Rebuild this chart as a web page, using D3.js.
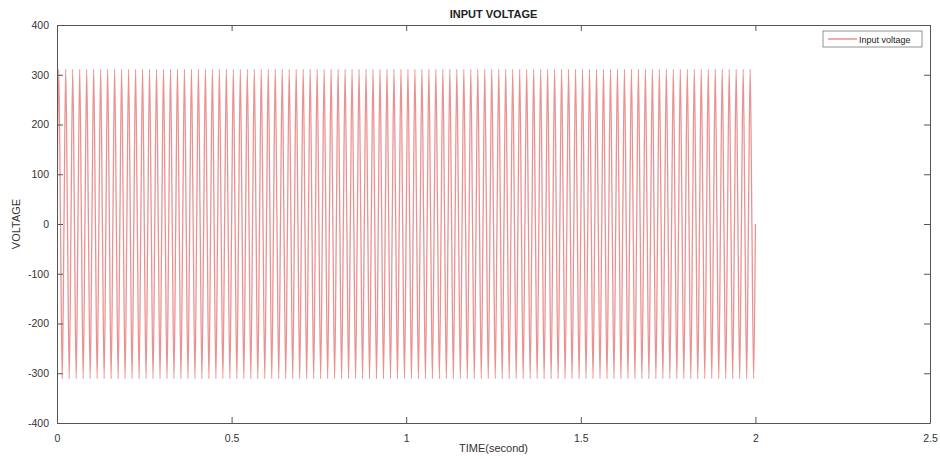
<!DOCTYPE html>
<html>
<head>
<meta charset="utf-8">
<script src="https://cdn.jsdelivr.net/npm/d3@7/dist/d3.min.js"></script>
<style>
  html, body { margin: 0; padding: 0; background: #fff; }
  svg { display: block; font-family: "Liberation Sans", Arial, sans-serif; }
</style>
</head>
<body>
<svg id="chart" width="940" height="459"></svg>
<script>
// Axis ticks
const timeTicks = [0, 0.5, 1, 1.5, 2, 2.5];
const voltageTicks = [-400, -300, -200, -100, 0, 100, 200, 300, 400];

// Mains input: 50 Hz, one cycle every 0.02 s, 100 cycles from 0 to 2 s
const cycleDuration = 0.02;
// Crest voltage of each cycle (V)
const positivePeaks = [
  311, 311, 311, 311, 311, 311, 311, 311, 311, 311,
  311, 311, 311, 311, 311, 311, 311, 311, 311, 311,
  311, 311, 311, 311, 311, 311, 311, 311, 311, 311,
  311, 311, 311, 311, 311, 311, 311, 311, 311, 311,
  311, 311, 311, 311, 311, 311, 311, 311, 311, 311,
  311, 311, 311, 311, 311, 311, 311, 311, 311, 311,
  311, 311, 311, 311, 311, 311, 311, 311, 311, 311,
  311, 311, 311, 311, 311, 311, 311, 311, 311, 311,
  311, 311, 311, 311, 311, 311, 311, 311, 311, 311,
  311, 311, 311, 311, 311, 311, 311, 311, 311, 311
];
// Trough voltage of each cycle (V)
const negativePeaks = [
  -311, -311, -311, -311, -311, -311, -311, -311, -311, -311,
  -311, -311, -311, -311, -311, -311, -311, -311, -311, -311,
  -311, -311, -311, -311, -311, -311, -311, -311, -311, -311,
  -311, -311, -311, -311, -311, -311, -311, -311, -311, -311,
  -311, -311, -311, -311, -311, -311, -311, -311, -311, -311,
  -311, -311, -311, -311, -311, -311, -311, -311, -311, -311,
  -311, -311, -311, -311, -311, -311, -311, -311, -311, -311,
  -311, -311, -311, -311, -311, -311, -311, -311, -311, -311,
  -311, -311, -311, -311, -311, -311, -311, -311, -311, -311,
  -311, -311, -311, -311, -311, -311, -311, -311, -311, -311
];

// Build the waveform's key points: zero crossing, crest, zero crossing, trough per cycle
const points = [];
positivePeaks.forEach((crest, i) => {
  const t0 = i * cycleDuration;
  points.push([t0, 0]);
  points.push([t0 + cycleDuration / 4, crest]);
  points.push([t0 + cycleDuration / 2, 0]);
  points.push([t0 + 3 * cycleDuration / 4, negativePeaks[i]]);
});
points.push([positivePeaks.length * cycleDuration, 0]);

const svg = d3.select("#chart");
const margin = { left: 57, top: 25, right: 10, bottom: 36 };
const W = 940, H = 459;
const x0 = margin.left, x1 = W - margin.right;
const y0 = margin.top, y1 = H - margin.bottom;

const x = d3.scaleLinear().domain([0, 2.5]).range([x0, x1]);
const y = d3.scaleLinear().domain([-400, 400]).range([y1, y0]);

const axisColor = "#555";
const textColor = "#333";
const tickLen = 6;
const plain = d => String(d);

// Waveform
svg.append("clipPath").attr("id", "plotClip")
  .append("rect").attr("x", x0).attr("y", y0).attr("width", x1 - x0).attr("height", y1 - y0);

svg.append("path")
  .datum(points)
  .attr("clip-path", "url(#plotClip)")
  .attr("fill", "none")
  .attr("stroke", "#dc4a4a")
  .attr("stroke-width", 1.3)
  .attr("stroke-opacity", 0.6)
  .attr("d", d3.line().x(d => x(d[0])).y(d => y(d[1])).curve(d3.curveMonotoneX));

// Axes with inward ticks, mirrored on top and right
const gx = svg.append("g").attr("transform", `translate(0,${y1})`)
  .call(d3.axisBottom(x).tickValues(timeTicks).tickFormat(plain).tickSizeInner(-tickLen).tickSizeOuter(0).tickPadding(12));
const gxTop = svg.append("g").attr("transform", `translate(0,${y0})`)
  .call(d3.axisTop(x).tickValues(timeTicks).tickFormat("").tickSizeInner(-tickLen).tickSizeOuter(0));
const gy = svg.append("g").attr("transform", `translate(${x0},0)`)
  .call(d3.axisLeft(y).tickValues(voltageTicks).tickFormat(plain).tickSizeInner(-tickLen).tickSizeOuter(0).tickPadding(8));
const gyRight = svg.append("g").attr("transform", `translate(${x1},0)`)
  .call(d3.axisRight(y).tickValues(voltageTicks).tickFormat("").tickSizeInner(-tickLen).tickSizeOuter(0));

[gx, gxTop, gy, gyRight].forEach(g => {
  g.select(".domain").attr("stroke", axisColor).attr("stroke-width", 1);
  g.selectAll(".tick line").attr("stroke", axisColor);
  g.selectAll(".tick text").attr("fill", textColor).attr("font-size", 10.5)
    .attr("font-family", "Liberation Sans, Arial, sans-serif");
});

// Title and axis labels
svg.append("text")
  .attr("x", (x0 + x1) / 2).attr("y", 18)
  .attr("text-anchor", "middle")
  .attr("font-size", 11).attr("font-weight", "bold").attr("fill", "#222")
  .text("INPUT VOLTAGE");

svg.append("text")
  .attr("x", (x0 + x1) / 2).attr("y", 452)
  .attr("text-anchor", "middle")
  .attr("font-size", 11).attr("fill", textColor)
  .text("TIME(second)");

svg.append("text")
  .attr("transform", `translate(20,${(y0 + y1) / 2}) rotate(-90)`)
  .attr("text-anchor", "middle")
  .attr("font-size", 11).attr("fill", textColor)
  .text("VOLTAGE");

// Legend
const lg = svg.append("g");
lg.append("rect")
  .attr("x", 823).attr("y", 31).attr("width", 99).attr("height", 16)
  .attr("fill", "#fff").attr("stroke", "#777").attr("stroke-width", 0.8);
lg.append("line")
  .attr("x1", 828).attr("x2", 857).attr("y1", 39).attr("y2", 39)
  .attr("stroke", "#d83030").attr("stroke-width", 0.8);
lg.append("text")
  .attr("x", 859).attr("y", 42.5)
  .attr("font-size", 9).attr("fill", "#222")
  .text("Input voltage");
</script>
</body>
</html>
